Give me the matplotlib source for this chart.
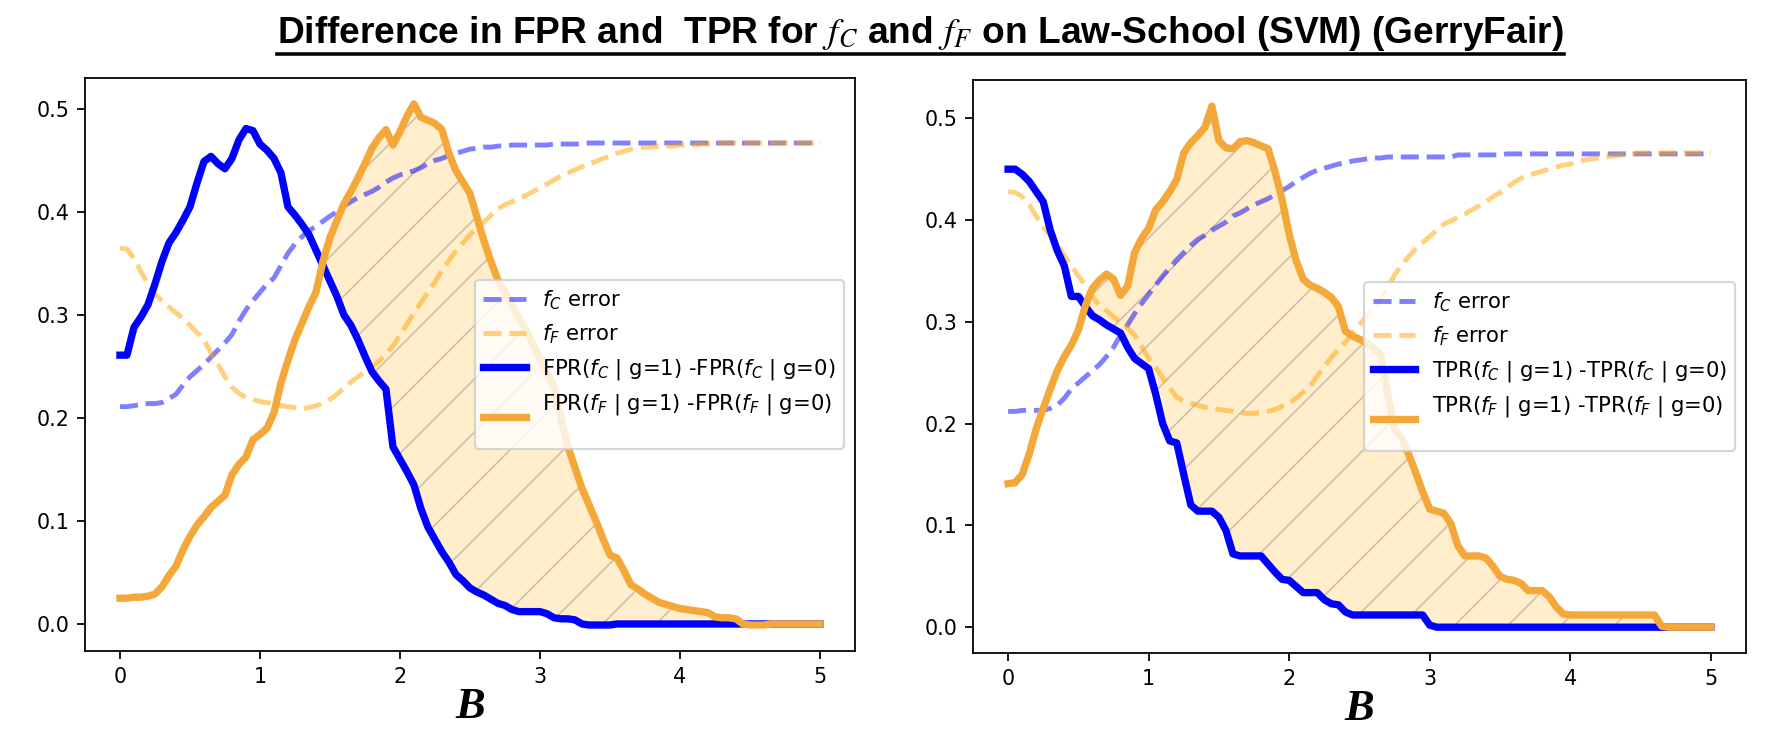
import numpy as np
import matplotlib
matplotlib.use("Agg")
import matplotlib.pyplot as plt
from matplotlib.lines import Line2D

# B grid (step 0.05)
B = [0.00, 0.05, 0.10, 0.15, 0.20, 0.25, 0.30, 0.35, 0.40, 0.45,
     0.50, 0.55, 0.60, 0.65, 0.70, 0.75, 0.80, 0.85, 0.90, 0.95,
     1.00, 1.05, 1.10, 1.15, 1.20, 1.25, 1.30, 1.35, 1.40, 1.45,
     1.50, 1.55, 1.60, 1.65, 1.70, 1.75, 1.80, 1.85, 1.90, 1.95,
     2.00, 2.05, 2.10, 2.15, 2.20, 2.25, 2.30, 2.35, 2.40, 2.45,
     2.50, 2.55, 2.60, 2.65, 2.70, 2.75, 2.80, 2.85, 2.90, 2.95,
     3.00, 3.05, 3.10, 3.15, 3.20, 3.25, 3.30, 3.35, 3.40, 3.45,
     3.50, 3.55, 3.60, 3.65, 3.70, 3.75, 3.80, 3.85, 3.90, 3.95,
     4.00, 4.05, 4.10, 4.15, 4.20, 4.25, 4.30, 4.35, 4.40, 4.45,
     4.50, 4.55, 4.60, 4.65, 4.70, 4.75, 4.80, 4.85, 4.90, 4.95,
     5.00]

# left panel: FPR
fpr_err_c = [0.211, 0.211, 0.212, 0.213, 0.214, 0.214, 0.215, 0.219, 0.223, 0.232,
             0.240, 0.246, 0.252, 0.259, 0.266, 0.273, 0.281, 0.294, 0.305, 0.314,
             0.322, 0.330, 0.336, 0.348, 0.360, 0.369, 0.376, 0.382, 0.386, 0.391,
             0.396, 0.400, 0.406, 0.410, 0.414, 0.417, 0.420, 0.424, 0.429, 0.433,
             0.436, 0.438, 0.440, 0.443, 0.447, 0.450, 0.452, 0.455, 0.457, 0.459,
             0.461, 0.462, 0.463, 0.463, 0.464, 0.464, 0.465, 0.465, 0.465, 0.465,
             0.465, 0.465, 0.466, 0.466, 0.466, 0.466, 0.466, 0.467, 0.467, 0.467,
             0.467, 0.467, 0.467, 0.467, 0.467, 0.467, 0.467, 0.467, 0.467, 0.467,
             0.467, 0.467, 0.467, 0.467, 0.467, 0.467, 0.467, 0.467, 0.467, 0.467,
             0.467, 0.467, 0.467, 0.467, 0.467, 0.467, 0.467, 0.467, 0.467, 0.467,
             0.467]
fpr_err_f = [0.365, 0.364, 0.355, 0.342, 0.330, 0.320, 0.314, 0.308, 0.302, 0.297,
             0.290, 0.283, 0.276, 0.263, 0.252, 0.240, 0.230, 0.224, 0.220, 0.218,
             0.216, 0.215, 0.214, 0.212, 0.211, 0.210, 0.209, 0.210, 0.212, 0.214,
             0.218, 0.223, 0.229, 0.235, 0.240, 0.245, 0.250, 0.255, 0.262, 0.270,
             0.280, 0.291, 0.302, 0.312, 0.322, 0.332, 0.343, 0.353, 0.362, 0.370,
             0.378, 0.384, 0.390, 0.397, 0.403, 0.407, 0.410, 0.413, 0.416, 0.420,
             0.423, 0.427, 0.431, 0.435, 0.438, 0.441, 0.444, 0.447, 0.449, 0.452,
             0.454, 0.457, 0.459, 0.461, 0.462, 0.463, 0.463, 0.464, 0.464, 0.464,
             0.465, 0.465, 0.465, 0.466, 0.466, 0.466, 0.467, 0.467, 0.467, 0.467,
             0.467, 0.467, 0.467, 0.467, 0.467, 0.467, 0.467, 0.467, 0.467, 0.467,
             0.467]
fpr_gap_c = [0.261, 0.261, 0.288, 0.298, 0.310, 0.330, 0.352, 0.370, 0.380, 0.392,
             0.405, 0.428, 0.449, 0.454, 0.447, 0.442, 0.452, 0.470, 0.481, 0.479,
             0.466, 0.460, 0.452, 0.438, 0.405, 0.397, 0.388, 0.378, 0.363, 0.348,
             0.333, 0.318, 0.300, 0.290, 0.276, 0.260, 0.245, 0.236, 0.228, 0.172,
             0.160, 0.148, 0.135, 0.112, 0.094, 0.082, 0.070, 0.060, 0.048, 0.042,
             0.035, 0.031, 0.028, 0.024, 0.020, 0.018, 0.014, 0.012, 0.012, 0.012,
             0.012, 0.010, 0.006, 0.005, 0.005, 0.004, 0.000, -0.001, -0.001, -0.001,
             -0.001, 0.000, 0.000, 0.000, 0.000, 0.000, 0.000, 0.000, 0.000, 0.000,
             0.000, 0.000, 0.000, 0.000, 0.000, 0.000, 0.000, 0.000, 0.000, 0.000,
             0.000, 0.000, 0.000, 0.000, 0.000, 0.000, 0.000, 0.000, 0.000, 0.000,
             0.000]
fpr_gap_f = [0.025, 0.025, 0.026, 0.026, 0.027, 0.029, 0.036, 0.047, 0.056, 0.072,
             0.085, 0.096, 0.104, 0.113, 0.119, 0.125, 0.145, 0.155, 0.162, 0.179,
             0.184, 0.190, 0.205, 0.234, 0.256, 0.276, 0.292, 0.308, 0.322, 0.352,
             0.375, 0.392, 0.408, 0.420, 0.433, 0.447, 0.462, 0.472, 0.480, 0.465,
             0.478, 0.493, 0.505, 0.492, 0.489, 0.486, 0.480, 0.457, 0.440, 0.429,
             0.418, 0.395, 0.372, 0.352, 0.334, 0.322, 0.310, 0.297, 0.285, 0.272,
             0.258, 0.244, 0.230, 0.200, 0.172, 0.152, 0.132, 0.116, 0.100, 0.083,
             0.067, 0.064, 0.052, 0.038, 0.034, 0.029, 0.025, 0.021, 0.019, 0.017,
             0.015, 0.014, 0.013, 0.012, 0.011, 0.007, 0.006, 0.006, 0.005, 0.000,
             -0.001, -0.001, -0.001, 0.000, 0.000, 0.000, 0.000, 0.000, 0.000, 0.000,
             0.000]

# right panel: TPR
tpr_err_c = [0.212, 0.212, 0.213, 0.213, 0.213, 0.213, 0.215, 0.218, 0.225, 0.234,
             0.240, 0.246, 0.252, 0.258, 0.266, 0.275, 0.287, 0.297, 0.308, 0.318,
             0.327, 0.336, 0.345, 0.353, 0.361, 0.368, 0.375, 0.381, 0.385, 0.390,
             0.394, 0.398, 0.404, 0.407, 0.411, 0.415, 0.418, 0.421, 0.425, 0.429,
             0.433, 0.438, 0.442, 0.446, 0.449, 0.451, 0.453, 0.455, 0.456, 0.458,
             0.459, 0.460, 0.461, 0.461, 0.462, 0.462, 0.462, 0.462, 0.462, 0.462,
             0.462, 0.462, 0.462, 0.462, 0.464, 0.464, 0.464, 0.464, 0.464, 0.464,
             0.464, 0.465, 0.465, 0.465, 0.465, 0.465, 0.465, 0.465, 0.465, 0.465,
             0.465, 0.465, 0.465, 0.465, 0.465, 0.465, 0.465, 0.465, 0.465, 0.465,
             0.465, 0.465, 0.465, 0.465, 0.465, 0.465, 0.465, 0.465, 0.465, 0.465,
             0.465]
tpr_err_f = [0.428, 0.427, 0.423, 0.415, 0.404, 0.393, 0.385, 0.376, 0.365, 0.355,
             0.345, 0.336, 0.325, 0.316, 0.311, 0.305, 0.300, 0.294, 0.287, 0.276,
             0.264, 0.255, 0.245, 0.235, 0.226, 0.222, 0.220, 0.218, 0.216, 0.215,
             0.214, 0.213, 0.212, 0.211, 0.210, 0.210, 0.211, 0.212, 0.214, 0.217,
             0.220, 0.225, 0.231, 0.237, 0.247, 0.256, 0.265, 0.273, 0.280, 0.289,
             0.297, 0.306, 0.314, 0.322, 0.334, 0.346, 0.356, 0.364, 0.372, 0.378,
             0.384, 0.390, 0.396, 0.399, 0.403, 0.406, 0.410, 0.414, 0.418, 0.423,
             0.427, 0.432, 0.437, 0.441, 0.444, 0.446, 0.448, 0.450, 0.452, 0.454,
             0.455, 0.457, 0.459, 0.460, 0.461, 0.462, 0.463, 0.464, 0.464, 0.465,
             0.466, 0.466, 0.466, 0.466, 0.466, 0.466, 0.466, 0.466, 0.466, 0.466,
             0.466]
tpr_gap_c = [0.450, 0.450, 0.445, 0.438, 0.428, 0.418, 0.390, 0.370, 0.355, 0.325,
             0.325, 0.315, 0.306, 0.302, 0.297, 0.293, 0.289, 0.275, 0.264, 0.259,
             0.254, 0.229, 0.200, 0.183, 0.181, 0.150, 0.120, 0.114, 0.114, 0.114,
             0.108, 0.095, 0.072, 0.070, 0.070, 0.070, 0.070, 0.062, 0.054, 0.047,
             0.046, 0.040, 0.034, 0.034, 0.034, 0.027, 0.023, 0.022, 0.015, 0.012,
             0.012, 0.012, 0.012, 0.012, 0.012, 0.012, 0.012, 0.012, 0.012, 0.012,
             0.002, 0.000, 0.000, 0.000, 0.000, 0.000, 0.000, 0.000, 0.000, 0.000,
             0.000, 0.000, 0.000, 0.000, 0.000, 0.000, 0.000, 0.000, 0.000, 0.000,
             0.000, 0.000, 0.000, 0.000, 0.000, 0.000, 0.000, 0.000, 0.000, 0.000,
             0.000, 0.000, 0.000, 0.000, 0.000, 0.000, 0.000, 0.000, 0.000, 0.000,
             0.000]
tpr_gap_f = [0.141, 0.142, 0.150, 0.170, 0.195, 0.215, 0.234, 0.252, 0.266, 0.277,
             0.292, 0.316, 0.333, 0.341, 0.347, 0.342, 0.326, 0.335, 0.368, 0.382,
             0.392, 0.410, 0.418, 0.428, 0.440, 0.466, 0.476, 0.483, 0.491, 0.512,
             0.478, 0.471, 0.470, 0.477, 0.478, 0.476, 0.473, 0.470, 0.447, 0.420,
             0.386, 0.360, 0.342, 0.336, 0.333, 0.329, 0.324, 0.315, 0.291, 0.286,
             0.283, 0.279, 0.274, 0.268, 0.230, 0.195, 0.186, 0.170, 0.152, 0.133,
             0.116, 0.114, 0.112, 0.102, 0.080, 0.070, 0.070, 0.070, 0.068, 0.060,
             0.050, 0.047, 0.046, 0.043, 0.036, 0.036, 0.036, 0.030, 0.020, 0.013,
             0.012, 0.012, 0.012, 0.012, 0.012, 0.012, 0.012, 0.012, 0.012, 0.012,
             0.012, 0.012, 0.012, 0.001, 0.000, 0.000, 0.000, 0.000, 0.000, 0.000,
             0.000]

ORANGE = "#f4a83a"
TICK_FS = 9.3
LEGEND_FS = 9.5
plt.rcParams["hatch.linewidth"] = 0.7


def draw_panel(ax, err_c, err_f, gap_c, gap_f, rate):
    ax.plot(B, err_c, "--", color="blue", alpha=0.5, lw=2.2, label=r"$f_C$ error")
    ax.plot(B, err_f, "--", color="orange", alpha=0.5, lw=2.2, label=r"$f_F$ error")
    ax.plot(B, gap_c, color="blue", lw=3.3,
            label=rate + r"($f_C$ | g=1) -" + rate + r"($f_C$ | g=0)")
    ax.plot(B, gap_f, color=ORANGE, lw=3.3,
            label=rate + r"($f_F$ | g=1) -" + rate + r"($f_F$ | g=0)" + "\n")
    c = np.array(gap_c)
    f = np.array(gap_f)
    ax.fill_between(B, c, f, where=f >= c, interpolate=True,
                    facecolor=(1.0, 0.647, 0.0, 0.2),
                    edgecolor=(0.4, 0.4, 0.4, 0.35),
                    linewidth=0, hatch="/")
    ax.legend(loc="center right", fontsize=LEGEND_FS)
    ax.set_xticks(range(6))
    ax.tick_params(labelsize=TICK_FS)
    ax.set_xlabel("B", family="Liberation Serif", style="italic",
                  weight="bold", fontsize=20, labelpad=0)


fig = plt.figure(figsize=(1770 / 160, 734 / 160), dpi=160)
ax1 = fig.add_axes([0.048, 0.113, 0.435, 0.781])
ax2 = fig.add_axes([0.5497, 0.110, 0.4367, 0.781])

draw_panel(ax1, fpr_err_c, fpr_err_f, fpr_gap_c, fpr_gap_f, "FPR")
draw_panel(ax2, tpr_err_c, tpr_err_f, tpr_gap_c, tpr_gap_f, "TPR")

title = fig.text(0.520, 0.941,
                 r"Difference in FPR and  TPR for $f_C$ and $f_F$ on Law-School (SVM) (GerryFair)",
                 ha="center", va="baseline", fontsize=16.7, weight="bold",
                 family=["Liberation Sans Narrow", "Liberation Sans", "DejaVu Sans"],
                 math_fontfamily="stix")

# underline the title
fig.canvas.draw()
bb = title.get_window_extent()
inv = fig.transFigure.inverted()
(x0, y0), (x1, _) = inv.transform([(bb.x0, bb.y0 - 1), (bb.x1, bb.y0 - 1)])
fig.add_artist(Line2D([x0, x1], [y0, y0], color="black", lw=1.6,
                      transform=fig.transFigure))

fig.savefig("out.png", dpi=160)
